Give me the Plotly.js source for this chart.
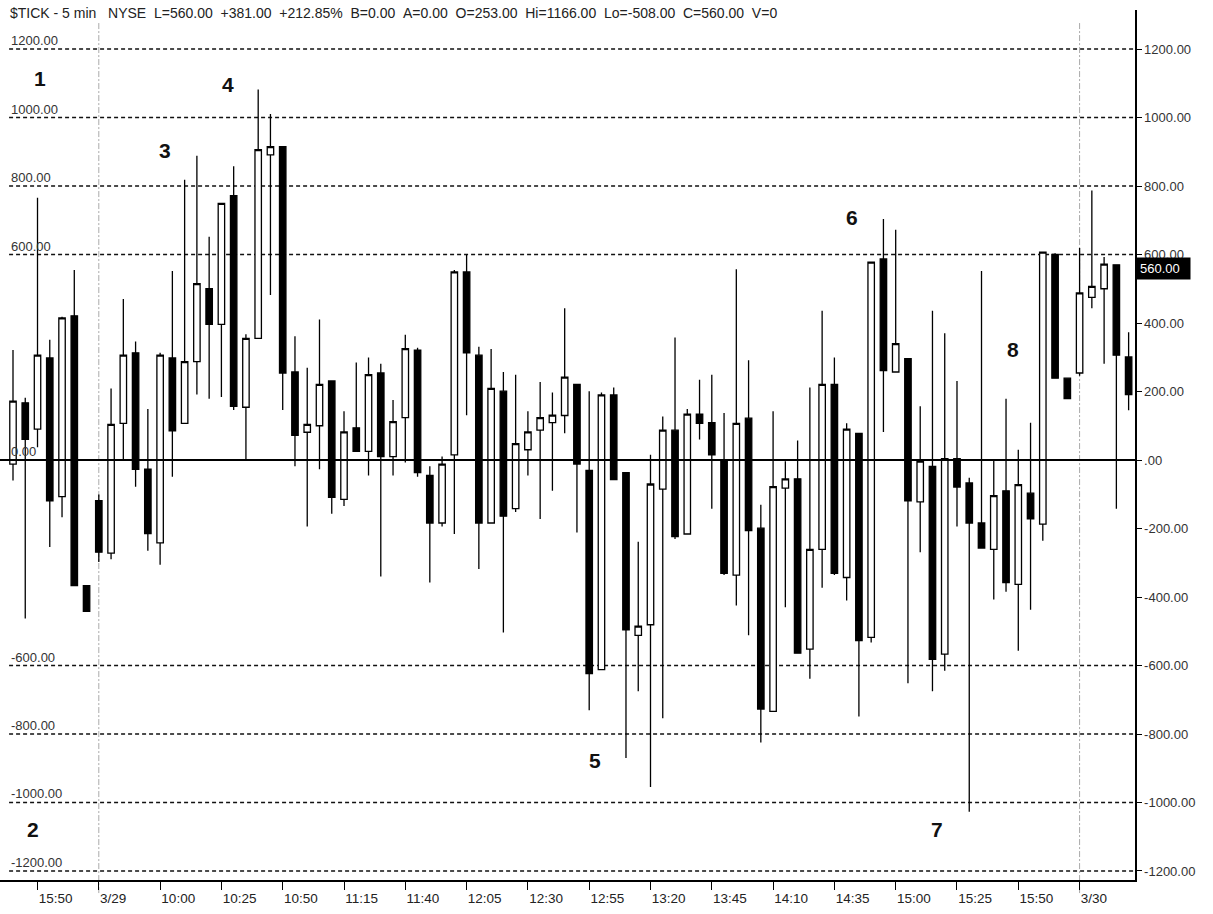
<!DOCTYPE html>
<html><head><meta charset="utf-8">
<script src="https://cdn.plot.ly/plotly-3.0.1.min.js"></script>
<style>html,body{margin:0;padding:0;background:#fff}#chart{width:1213px;height:914px}</style>
</head><body><div id="chart"></div>
<script>
// ---- data ----
const openVals  = [-12,167,90,298,-107,421,-367,-119,-272,107,313,-27,-242,298,107,287,500,396,772,154,355,891,915,257,81,100,231,-115,94,25,254,10,124,321,-45,-184,15,549,306,-184,201,-142,30,87,109,130,221,-30,-612,190,-37,-512,-481,-85,87,-216,134,109,0,-336,122,-199,-734,-82,-55,-552,-261,221,-343,78,-518,587,257,296,-122,-19,-567,4,-67,-184,-261,-90,-363,-97,-187,600,239,254,475,500,570,301];
const highVals  = [321,182,766,351,418,555,-367,-101,209,470,346,149,313,552,818,888,652,749,858,367,1082,1010,915,361,269,410,231,142,285,299,281,175,366,328,-18,10,555,600,331,324,257,249,142,228,197,443,221,201,197,212,-37,-239,15,127,358,149,234,249,137,557,291,-131,142,-4,57,212,436,299,107,78,578,704,672,296,157,436,370,231,-52,552,0,179,30,109,607,604,239,619,787,593,570,373];
const lowVals   = [-60,-463,37,-254,-167,-367,-442,-298,-290,0,-78,-265,-306,-49,107,191,179,184,146,3,355,482,146,-18,-194,-27,-157,-134,25,-45,-340,-45,-7,-49,-358,-194,-216,131,-318,-184,-504,-152,-45,-172,-90,78,-212,-731,-612,-57,-870,-675,-955,-754,-231,-216,60,-142,-336,-425,-512,-825,-734,-430,-564,-639,-373,-336,-410,-749,-533,82,257,-652,-269,-675,-615,-194,-1027,-257,-407,-385,-557,-437,-236,239,179,246,443,281,-142,145];
const closeVals = [172,60,306,-119,415,-367,-442,-269,104,306,-27,-215,306,85,287,515,396,749,157,355,906,915,254,72,104,221,-109,82,25,249,10,112,325,-37,-184,-12,549,313,-184,209,-164,48,82,124,131,242,-12,-624,190,-57,-496,-485,-70,87,-224,134,107,15,-331,107,-206,-727,-78,-55,-564,-261,221,-331,90,-527,578,261,340,-119,-3,-582,4,-79,-184,-257,-104,-358,-72,-172,607,239,179,488,507,572,306,191];

const tickIndex  = [2,7,12,17,22,27,32,37,42,47,52,57,62,67,72,77,82,87];
const tickLabels = ['15:50','3/29','10:00','10:25','10:50','11:15','11:40','12:05','12:30','12:55','13:20','13:45','14:10','14:35','15:00','15:25','15:50','3/30'];
const yTickVals  = [1200,1000,800,600,400,200,0,-200,-400,-600,-800,-1000,-1200];
const yTickText  = ['1200.00','1000.00','800.00','600.00','400.00','200.00','.00','-200.00','-400.00','-600.00','-800.00','-1000.00','-1200.00'];
const gridLevels = [1200,1000,800,600,-600,-800,-1000,-1200];
const leftLabelLevels = [1200,1000,800,600,0,-600,-800,-1000,-1200];
const leftLabelText   = ['1200.00','1000.00','800.00','600.00','0.00','-600.00','-800.00','-1000.00','-1200.00'];
const dayBreakIndex = [7,87];
const lastPrice = 560;
const headerText = '$TICK - 5 min   NYSE  L=560.00  +381.00  +212.85%  B=0.00  A=0.00  O=253.00  Hi=1166.00  Lo=-508.00  C=560.00  V=0';
const waveLabels = ['1','2','3','4','5','6','7','8'];
const waveAt = [[2.2,1115],[1.6,-1080],[12.4,905],[17.5,1095],[47.5,-876],[68.4,707],[75.4,-1080],[81.6,324]];

const xIdx = openVals.map((_, i) => i);
const FONT = 'Liberation Sans, Arial, sans-serif';

const trace = {
  type: 'candlestick',
  x: xIdx, open: openVals, high: highVals, low: lowVals, close: closeVals,
  increasing: {line: {color: '#000', width: 1.3}, fillcolor: '#fff'},
  decreasing: {line: {color: '#000', width: 1.3}, fillcolor: '#000'},
  whiskerwidth: 0,
  hoverinfo: 'skip',
  showlegend: false
};

const shapes = [];
gridLevels.forEach(v => shapes.push({type:'line', xref:'paper', x0:0.008, x1:1, yref:'y', y0:v, y1:v,
  line:{color:'#111', width:1.5, dash:'4px,3px'}, layer:'below'}));
dayBreakIndex.forEach(i => shapes.push({type:'line', xref:'x', x0:i, x1:i, yref:'paper', y0:-0.015, y1:0.985,
  line:{color:'#aaa', width:1, dash:'6px,2px,2px,2px'}, layer:'below'}));
shapes.push({type:'line', xref:'paper', x0:0, x1:1, yref:'y', y0:0, y1:0, line:{color:'#000', width:2}, layer:'above'});

const annotations = [];
annotations.push({xref:'paper', yref:'paper', x:0, y:1, xanchor:'left', yanchor:'top', xshift:8, yshift:7,
  text: headerText.replace(/ /g,'\u00a0'), showarrow:false, font:{family:FONT, size:14, color:'#222'}});
leftLabelLevels.forEach((v,k) => annotations.push({xref:'paper', yref:'y', x:0, y:v, xanchor:'left', yanchor:'bottom',
  xshift:9, yshift:-1, text:leftLabelText[k], showarrow:false, font:{family:FONT, size:13, color:'#333'}}));
waveLabels.forEach((t,k) => annotations.push({xref:'x', yref:'y', x:waveAt[k][0], y:waveAt[k][1], text:'<b>'+t+'</b>',
  showarrow:false, font:{family:FONT, size:21, color:'#111'}}));
annotations.push({xref:'paper', yref:'y', x:1, y:lastPrice, xanchor:'left', xshift:1, text:'560.00\u00a0\u00a0',
  showarrow:false, bgcolor:'#000', borderpad:3, font:{family:FONT, size:13, color:'#fff'}});

const layout = {
  width: 1213, height: 914,
  margin: {l:0, r:78, t:10, b:34},
  paper_bgcolor:'#fff', plot_bgcolor:'#fff',
  showlegend:false,
  boxgap: 0.25,
  xaxis: {
    range:[-1.06, 91.52], rangeslider:{visible:false}, showgrid:false, zeroline:false,
    showline:true, linecolor:'#000', linewidth:1.5,
    tickmode:'array', tickvals:tickIndex, ticktext:tickLabels,
    ticks:'outside', ticklen:8, tickcolor:'#000', tickwidth:1,
    ticklabelposition:'outside right', ticklabelstandoff:5,
    tickfont:{family:FONT, size:13.5, color:'#222'}, fixedrange:true
  },
  yaxis: {
    side:'right', range:[-1226.3, 1313.9], showgrid:false, zeroline:false,
    showline:true, linecolor:'#000', linewidth:1.5,
    tickmode:'array', tickvals:yTickVals, ticktext:yTickText,
    ticks:'outside', ticklen:5, tickcolor:'#000',
    tickfont:{family:FONT, size:13, color:'#333'}, fixedrange:true
  },
  shapes, annotations
};

Plotly.newPlot('chart', [trace], layout, {displayModeBar:false, staticPlot:true});
</script></body></html>
